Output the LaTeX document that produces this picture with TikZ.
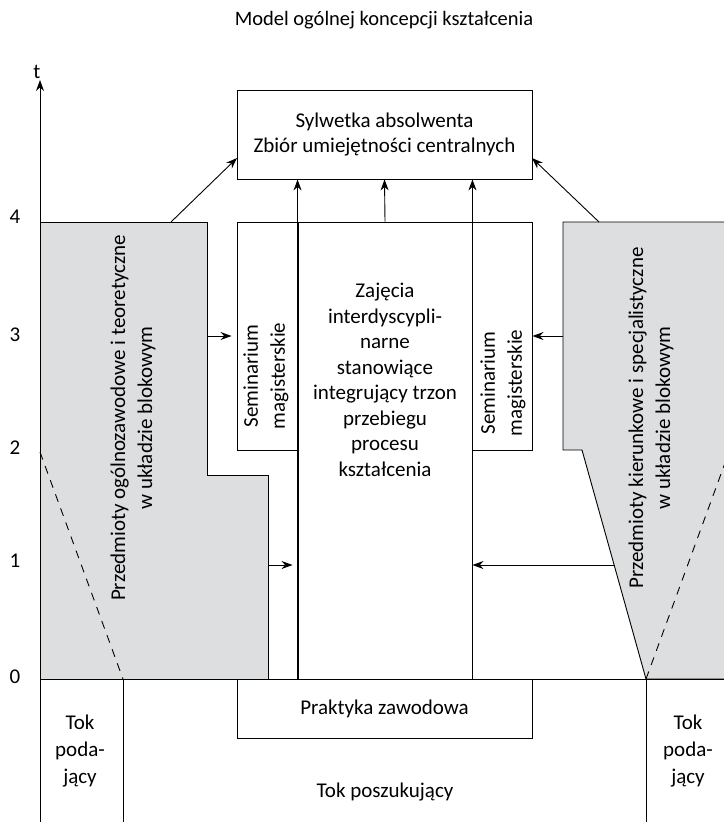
\documentclass[tikz,border=0pt]{standalone}
\usepackage{fontspec}
\setmainfont{Carlito}
\usetikzlibrary{arrows.meta,positioning}
\definecolor{blockgray}{RGB}{221,222,223}

\begin{document}
\begin{tikzpicture}[x=1pt,y=-1pt,line width=0.9pt,
  every node/.style={font=\fontsize{21}{25.5}\selectfont,align=center},
  box/.style={draw,rectangle,inner sep=0pt},
  block/.style={draw,fill=blockgray},
  arr/.style={-{Stealth[length=11pt,width=8pt]}},
  vtext/.style={rotate=90},
  wide/.style={font=\fontsize{21}{27}\selectfont}]
\useasboundingbox (0,0) rectangle (723,822);

\draw[block] (40,222) -- (207,222) -- (207,475) -- (268,475) -- (268,679) -- (40,679) -- cycle;
\draw[block] (563,222) -- (730,222) -- (730,679) -- (646,679) -- (582,450) -- (563,450) -- cycle;
\draw[dashed,dash pattern=on 8pt off 7pt] (40,452) -- (123,679);
\draw[dashed,dash pattern=on 8pt off 7pt] (646,679) -- (729,452);

\node[font=\fontsize{20.5}{24}\selectfont] (title) at (384,20) {Model ogólnej koncepcji kształcenia};
\node[box,minimum width=295pt,minimum height=89pt] (syl) at (384.5,134.5) {Sylwetka absolwenta\\Zbiór umiejętności centralnych};
\node[box,minimum width=174pt,minimum height=457pt] (zaj) at (385,450.5) {};
\node (zajtxt) at (385,380) {Zajęcia\\interdyscypli-\\narne\\stanowiące\\integrujący trzon\\przebiegu\\procesu\\kształcenia};
\node[box,minimum width=61pt,minimum height=228pt] (semL) at (267.5,336) {};
\node[box,minimum width=60pt,minimum height=228pt] (semR) at (502,336) {};
\node[vtext,wide] (semLtxt) at (266,376) {Seminarium\\magisterskie};
\node[vtext,wide] (semRtxt) at (503,383) {Seminarium\\magisterskie};
\node[vtext,wide] (lgtxt) at (133,418) {Przedmioty ogólnozawodowe i teoretyczne\\w układzie blokowym};
\node[vtext,wide] (rgtxt) at (651,418) {Przedmioty kierunkowe i specjalistyczne\\w układzie blokowym};
\node[box,minimum width=295pt,minimum height=59pt] (prak) at (384.5,708.5) {Praktyka zawodowa};
\node[wide] (tokL) at (80,751) {Tok\\poda-\\jący};
\node[wide] (tokR) at (688,751) {Tok\\poda-\\jący};
\node (tokS) at (385,792) {Tok poszukujący};

\node (t) at (37,72) {t};
\node (l4) at (15,217) {4};
\node (l3) at (15,335) {3};
\node (l2) at (15,448) {2};
\node (l1) at (15,561) {1};
\node (l0) at (15,677) {0};

\coordinate (lgTop) at (171,222);
\coordinate (rgTop) at (599,222);
\coordinate (sylL) at (237,158);
\coordinate (sylR) at (532,158);
\coordinate (lgMid) at (207,336);
\coordinate (rgMid) at (563,336);
\coordinate (lgLow) at (268,565);
\coordinate (rgLow) at (614,565);
\coordinate (axBot) at (40,830);
\coordinate (axTop) at (40,80);

\draw[arr] (zaj.south west) -- (zaj.south west |- syl.south);
\draw[arr] (zaj.south east) -- (zaj.south east |- syl.south);
\draw[arr] (zaj.north) -- (syl.south);
\draw[arr] (lgTop) -- (sylL);
\draw[arr] (rgTop) -- (sylR);
\draw[arr,shorten >=5pt] (lgMid) -- (semL.west);
\draw[arr] (rgMid) -- (semR.east);
\draw[arr,shorten >=5pt] (lgLow) -- (lgLow -| zaj.west);
\draw[arr] (rgLow) -- (rgLow -| zaj.east);
\draw[arr] (axBot) -- (axTop);

\draw (40,679) -- (730,679);
\draw (123,679) -- (123,830);
\draw (646,679) -- (646,830);
\end{tikzpicture}
\end{document}
